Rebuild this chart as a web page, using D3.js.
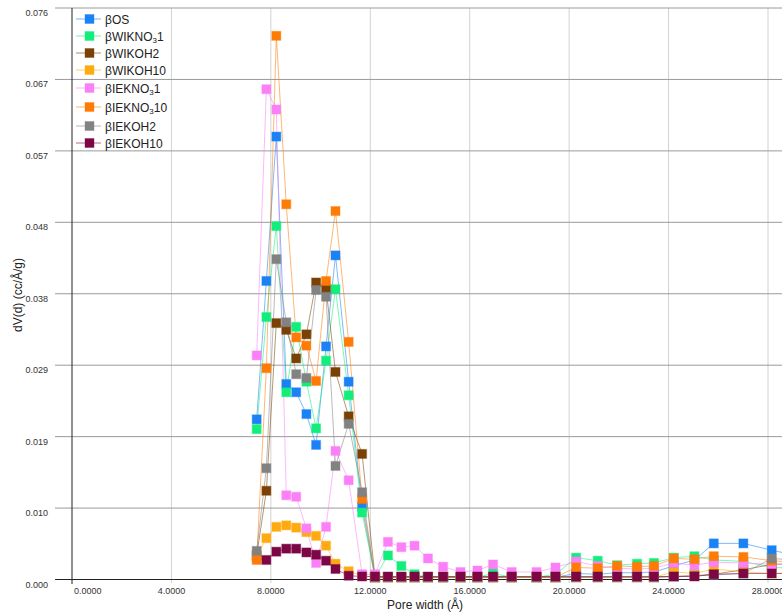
<!DOCTYPE html>
<meta charset="utf-8">
<head>
  <script src="https://d3js.org/d3.v7.min.js"></script>
  <style>
    body { margin: 0; background: #fff; }
    text { font-family: "Liberation Sans", Arial, sans-serif; }
  </style>
</head>
<body>
  <svg id="chart"></svg>
  <script>
    // pore width grid (Å)
    var poreWidth = [7.43, 7.82, 8.22, 8.62, 9.02, 9.43, 9.82, 10.22, 10.60, 11.13, 11.67, 12.19, 12.71, 13.25,
                     13.78, 14.32, 14.93, 15.63, 16.31, 16.94, 17.69, 18.69, 19.45, 20.28, 21.15, 21.93, 22.73,
                     23.41, 24.21, 25.04, 25.82, 27.01, 28.15, 29.40]

    var bOS      = [0.0213, 0.0397, 0.0589, 0.0260, 0.0249, 0.0220, 0.0179, 0.0310, 0.0431, 0.0263, 0.0097, 0.0003, 0.0003, 0.0003,
                    0.0003, 0.0003, 0.0003, 0.0003, 0.0003, 0.0003, 0.0003, 0.0003, 0.0003, 0.0008, 0.0007, 0.0009, 0.0009,
                    0.0010, 0.0018, 0.0026, 0.0048, 0.0048, 0.0039, 0.0030]
    var bWIKNO31 = [0.0200, 0.0349, 0.0470, 0.0249, 0.0336, 0.0263, 0.0201, 0.0291, 0.0386, 0.0245, 0.0089, 0.0003, 0.0032, 0.0018,
                    0.0007, 0.0003, 0.0003, 0.0003, 0.0003, 0.0008, 0.0003, 0.0003, 0.0007, 0.0029, 0.0025, 0.0019, 0.0021,
                    0.0022, 0.0029, 0.0031, 0.0026, 0.0024, 0.0016, 0.0015]
    var bWIKOH2  = [0.0032, 0.0118, 0.0341, 0.0332, 0.0294, 0.0326, 0.0395, 0.0387, 0.0276, 0.0217, 0.0167, 0.0003, 0.0003, 0.0003,
                    0.0003, 0.0003, 0.0003, 0.0003, 0.0003, 0.0003, 0.0003, 0.0003, 0.0003, 0.0003, 0.0003, 0.0003, 0.0003,
                    0.0003, 0.0004, 0.0005, 0.0007, 0.0013, 0.0020, 0.0022]
    var bWIKOH10 = [0.0030, 0.0055, 0.0070, 0.0072, 0.0069, 0.0063, 0.0058, 0.0045, 0.0021, 0.0011, 0.0005, 0.0003, 0.0003, 0.0003,
                    0.0003, 0.0003, 0.0003, 0.0003, 0.0003, 0.0003, 0.0003, 0.0003, 0.0003, 0.0003, 0.0003, 0.0003, 0.0003,
                    0.0003, 0.0010, 0.0008, 0.0014, 0.0010, 0.0008, 0.0009]
    var bIEKNO31 = [0.0298, 0.0652, 0.0625, 0.0112, 0.0110, 0.0068, 0.0022, 0.0070, 0.0171, 0.0132, 0.0007, 0.0007, 0.0050, 0.0043,
                    0.0045, 0.0028, 0.0017, 0.0010, 0.0012, 0.0020, 0.0010, 0.0010, 0.0016, 0.0024, 0.0018, 0.0015, 0.0014,
                    0.0015, 0.0022, 0.0019, 0.0023, 0.0022, 0.0020, 0.0020]
    var bIEKNO310 = [0.0026, 0.0281, 0.0723, 0.0499, 0.0322, 0.0311, 0.0264, 0.0397, 0.0490, 0.0316, 0.0107, 0.0003, 0.0003, 0.0003,
                    0.0003, 0.0003, 0.0003, 0.0003, 0.0003, 0.0003, 0.0003, 0.0003, 0.0003, 0.0016, 0.0015, 0.0018, 0.0017,
                    0.0018, 0.0028, 0.0027, 0.0031, 0.0030, 0.0025, 0.0022]
    var bIEKOH2  = [0.0038, 0.0148, 0.0426, 0.0342, 0.0273, 0.0268, 0.0385, 0.0376, 0.0151, 0.0207, 0.0116, 0.0003, 0.0003, 0.0003,
                    0.0003, 0.0003, 0.0003, 0.0003, 0.0003, 0.0003, 0.0003, 0.0003, 0.0003, 0.0003, 0.0003, 0.0003, 0.0003,
                    0.0003, 0.0004, 0.0005, 0.0006, 0.0008, 0.0028, 0.0025]
    var bIEKOH10 = [null, 0.0026, 0.0037, 0.0041, 0.0041, 0.0036, 0.0033, 0.0025, 0.0014, 0.0005, 0.0004, 0.0004, 0.0004, 0.0004,
                    0.0004, 0.0004, 0.0004, 0.0004, 0.0004, 0.0004, 0.0004, 0.0004, 0.0004, 0.0004, 0.0004, 0.0004, 0.0004,
                    0.0004, 0.0004, 0.0004, 0.0007, 0.0008, 0.0008, 0.0008]

    // legend names: [before subscript, subscript, after subscript]
    var seriesNames = [["βOS", "", ""], ["βWIKNO", "3", "1"], ["βWIKOH2", "", ""], ["βWIKOH10", "", ""],
                       ["βIEKNO", "3", "1"], ["βIEKNO", "3", "10"], ["βIEKOH2", "", ""], ["βIEKOH10", "", ""]]
    var seriesValues = [bOS, bWIKNO31, bWIKOH2, bWIKOH10, bIEKNO31, bIEKNO310, bIEKOH2, bIEKOH10]
    var seriesColors = ["#1a82f5", "#12ee7c", "#7a4004", "#ffab0f", "#fb80f7", "#fe7b06", "#828282", "#7c0744"]

    var yTicks = [0, 0.0095, 0.019, 0.0285, 0.038, 0.0475, 0.057, 0.0665, 0.076]
    var yTickLabels = ["0.000", "0.010", "0.019", "0.029", "0.038", "0.048", "0.057", "0.067", "0.076"]
    var xTicks = [0, 4, 8, 12, 16, 20, 24, 28]

    var W = 782, H = 614

    var svg = d3.select("#chart")
      .attr("width", W)
      .attr("height", H)

    var x = d3.scaleLinear().domain([0, 28]).range([72, 768])
    var y = d3.scaleLinear().domain([0, 0.076]).range([579.5, 8])

    // vertical grid
    svg.append("g").selectAll("line")
      .data(xTicks.slice(1))
      .enter().append("line")
      .attr("x1", function(d) { return x(d) }).attr("x2", function(d) { return x(d) })
      .attr("y1", y(0.076)).attr("y2", 583)
      .attr("stroke", "#d2d2d2")

    // horizontal grid
    svg.append("g").selectAll("line")
      .data(yTicks.slice(1))
      .enter().append("line")
      .attr("x1", 55).attr("x2", W)
      .attr("y1", function(d) { return y(d) }).attr("y2", function(d) { return y(d) })
      .attr("stroke", "#9a9a9a")

    // axes lines
    svg.append("line")
      .attr("x1", 55).attr("x2", W).attr("y1", y(0)).attr("y2", y(0))
      .attr("stroke", "#222")
    svg.append("line")
      .attr("x1", x(0)).attr("x2", x(0)).attr("y1", y(0.076)).attr("y2", 584)
      .attr("stroke", "#222")

    // y tick labels
    svg.append("g").selectAll("text")
      .data(yTicks)
      .enter().append("text")
      .attr("x", 48)
      .attr("y", function(d) { return y(d) + 8 })
      .attr("text-anchor", "end")
      .attr("font-size", 9)
      .attr("fill", "#333")
      .text(function(d, i) { return yTickLabels[i] })

    // x tick labels
    svg.append("g").selectAll("text")
      .data(xTicks)
      .enter().append("text")
      .attr("x", function(d, i) { return i == 0 ? x(d) + 2 : x(d) })
      .attr("y", 594)
      .attr("text-anchor", function(d, i) { return i == 0 ? "start" : "middle" })
      .attr("font-size", 9)
      .attr("fill", "#333")
      .text(function(d) { return d3.format(".4f")(d) })

    // axis titles
    svg.append("text")
      .attr("transform", "translate(22," + 295 + ") rotate(-90)")
      .attr("text-anchor", "middle")
      .attr("font-size", 12)
      .attr("fill", "#222")
      .text("dV(d) (cc/Å/g)")
    svg.append("text")
      .attr("x", 425).attr("y", 609)
      .attr("text-anchor", "middle")
      .attr("font-size", 12)
      .attr("fill", "#222")
      .text("Pore width (Å)")

    // series
    var line = d3.line()
      .defined(function(d) { return d != null })
      .x(function(d, i) { return x(poreWidth[i]) })
      .y(function(d) { return y(d) })

    var plot = svg.append("g")
    seriesValues.forEach(function(vals, k) {
      plot.append("path")
        .datum(vals)
        .attr("fill", "none")
        .attr("stroke", seriesColors[k])
        .attr("stroke-opacity", 0.55)
        .attr("stroke-width", 1)
        .attr("d", line)
    })
    seriesValues.forEach(function(vals, k) {
      var pts = vals.map(function(v, i) { return {x: poreWidth[i], v: v} })
                    .filter(function(p) { return p.v != null })
      plot.append("g").selectAll("rect")
        .data(pts)
        .enter().append("rect")
        .attr("x", function(p) { return x(p.x) - 4.5 })
        .attr("y", function(p) { return y(p.v) - 4.5 })
        .attr("width", 9).attr("height", 9)
        .attr("fill", seriesColors[k])
        .attr("stroke", seriesColors[k])
        .attr("stroke-opacity", 0.35)
        .attr("stroke-width", 1.2)
    })

    // legend
    var legY = [19, 36, 53, 70, 88, 107, 126, 143]
    var leg = svg.append("g")
    seriesNames.forEach(function(nm, k) {
      var g = leg.append("g").attr("transform", "translate(0," + legY[k] + ")")
      g.append("line")
        .attr("x1", 76).attr("x2", 101).attr("y1", 0).attr("y2", 0)
        .attr("stroke", seriesColors[k]).attr("stroke-opacity", 0.6)
      g.append("rect")
        .attr("x", 85).attr("y", -4.5).attr("width", 9).attr("height", 9)
        .attr("fill", seriesColors[k])
        .attr("stroke", seriesColors[k]).attr("stroke-opacity", 0.35)
      var t = g.append("text")
        .attr("x", 105).attr("y", 4.5)
        .attr("font-size", 12)
        .attr("fill", "#222")
      t.append("tspan").text(nm[0])
      if (nm[1] != "") {
        t.append("tspan").attr("font-size", 8).attr("dy", 2).text(nm[1])
        t.append("tspan").attr("dy", -2).text(nm[2])
      }
    })
  </script>
</body>
